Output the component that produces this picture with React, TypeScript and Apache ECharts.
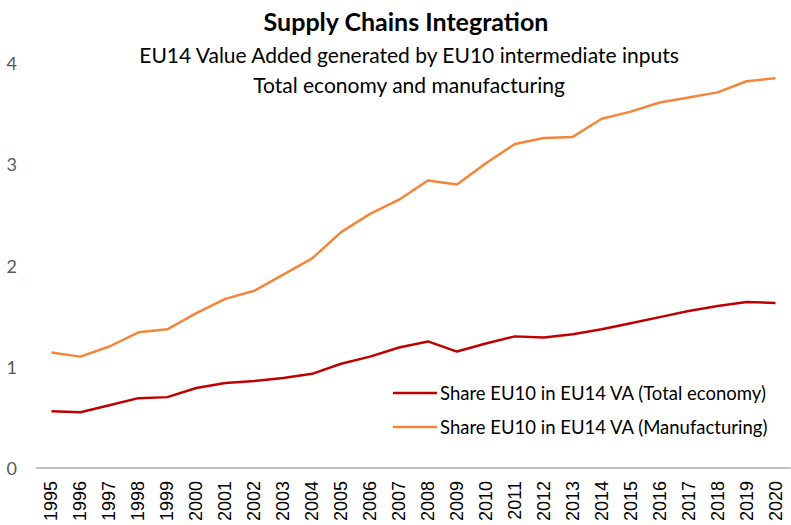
import React, { useEffect, useRef } from 'react';
import * as echarts from 'echarts';

const years = [
  '1995', '1996', '1997', '1998', '1999', '2000', '2001', '2002', '2003', '2004',
  '2005', '2006', '2007', '2008', '2009', '2010', '2011', '2012', '2013', '2014',
  '2015', '2016', '2017', '2018', '2019', '2020',
];

const totalEconomy = [
  0.56, 0.55, 0.62, 0.69, 0.70, 0.79, 0.84, 0.86, 0.89, 0.93,
  1.03, 1.10, 1.19, 1.25, 1.15, 1.23, 1.30, 1.29, 1.32, 1.37,
  1.43, 1.49, 1.55, 1.60, 1.64, 1.63,
];

const manufacturing = [
  1.14, 1.10, 1.20, 1.34, 1.37, 1.53, 1.67, 1.75, 1.91, 2.07,
  2.33, 2.51, 2.65, 2.84, 2.80, 3.01, 3.20, 3.26, 3.27, 3.45,
  3.52, 3.61, 3.66, 3.71, 3.82, 3.85,
];

const seriesNames = [
  'Share EU10 in EU14 VA (Total economy)',
  'Share EU10 in EU14 VA (Manufacturing)',
];

const titleText = 'Supply Chains Integration';
const subtitle1 = 'EU14 Value Added generated by EU10 intermediate inputs';
const subtitle2 = 'Total economy and manufacturing';

export default function App() {
  const ref = useRef<HTMLDivElement>(null);

  useEffect(() => {
    if (!ref.current) return;
    const chart = echarts.init(ref.current, null, { renderer: 'svg' });
    const font = 'Lato, "Open Sans", sans-serif';
    chart.setOption({
      animation: false,
      backgroundColor: '#ffffff',
      title: [
        {
          text: titleText,
          left: 401,
          top: 3,
          textAlign: 'center',
          textStyle: { fontFamily: font, fontSize: 25, fontWeight: 'bold', color: '#000000' },
        },
        {
          text: subtitle1,
          left: 404,
          top: 39,
          textAlign: 'center',
          textStyle: { fontFamily: font, fontSize: 21, fontWeight: 'normal', color: '#000000' },
        },
        {
          text: subtitle2,
          left: 404,
          top: 69,
          textAlign: 'center',
          textStyle: { fontFamily: font, fontSize: 21, fontWeight: 'normal', color: '#000000' },
        },
      ],
      legend: {
        orient: 'vertical',
        left: 388,
        top: 378,
        itemGap: 14,
        icon: 'rect',
        itemWidth: 44,
        itemHeight: 2.5,
        itemStyle: { borderWidth: 0 },
        textStyle: { fontFamily: font, fontSize: 18.5, lineHeight: 20, color: '#000000', padding: [0, 0, 0, -2] },
        data: seriesNames,
      },
      grid: { left: 37, right: 1, top: 63, bottom: 57, containLabel: false },
      xAxis: {
        type: 'category',
        data: years,
        boundaryGap: true,
        axisLine: { show: true, lineStyle: { color: '#bfbfbf', width: 2 } },
        axisTick: { show: false },
        axisLabel: {
          rotate: 90,
          interval: 0,
          margin: 13,
          fontFamily: '"Liberation Sans", Arial, sans-serif',
          fontSize: 18,
          color: '#000000',
        },
        splitLine: { show: false },
      },
      yAxis: {
        type: 'value',
        min: 0,
        max: 4,
        interval: 1,
        axisLine: { show: false },
        axisTick: { show: false },
        splitLine: { show: false },
        axisLabel: {
          margin: 20,
          fontFamily: font,
          fontSize: 18,
          color: '#595959',
        },
      },
      series: [
        {
          name: seriesNames[0],
          type: 'line',
          data: totalEconomy,
          symbol: 'none',
          lineStyle: { color: '#c00000', width: 2.5 },
          itemStyle: { color: '#c00000' },
        },
        {
          name: seriesNames[1],
          type: 'line',
          data: manufacturing,
          symbol: 'none',
          lineStyle: { color: '#f5853a', width: 2.5 },
          itemStyle: { color: '#f5853a' },
        },
      ],
    });
    return () => chart.dispose();
  }, []);

  return (
    <div
      ref={ref}
      style={{ position: 'fixed', left: 0, top: 0, width: 791, height: 525 }}
    />
  );
}
